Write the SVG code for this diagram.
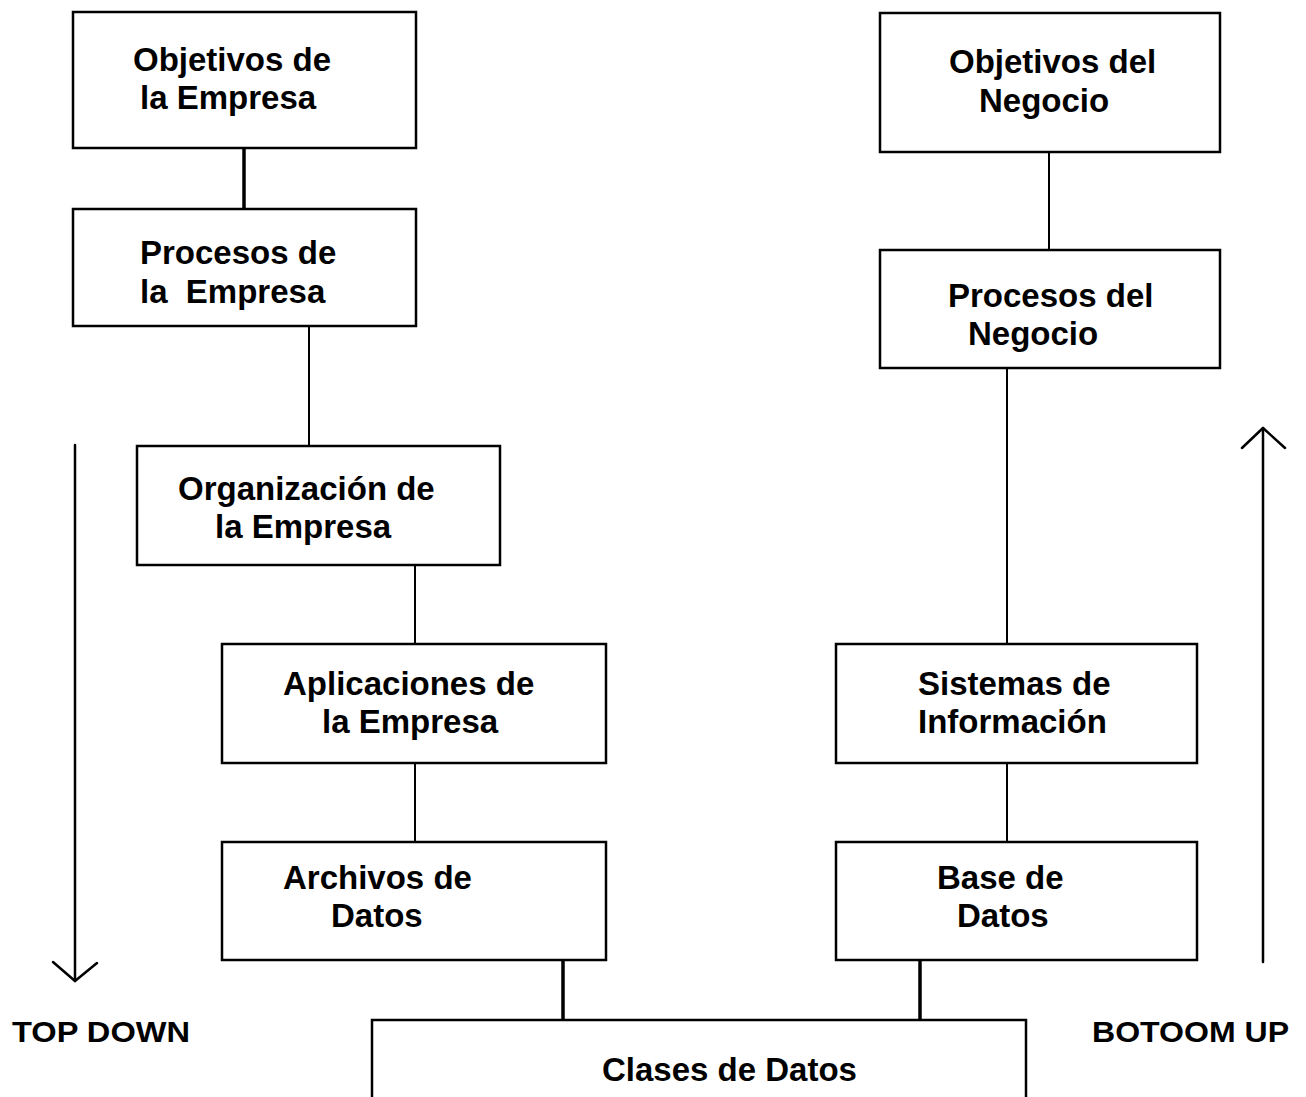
<svg xmlns="http://www.w3.org/2000/svg" width="1306" height="1097" viewBox="0 0 1306 1097">
  <style>
    .box { fill: #ffffff; stroke: #000000; stroke-width: 2.5; }
    .lbl { font-family: "Liberation Sans", Arial, sans-serif; font-weight: bold; font-size: 33px; fill: #000000; white-space: pre; }
    .cap { font-family: "Liberation Sans", Arial, sans-serif; font-weight: bold; font-size: 30px; fill: #000000; }
    .link { stroke: #000000; stroke-width: 2; fill: none; }
    .link-thick { stroke: #000000; stroke-width: 3.5; fill: none; }
    .flow { stroke: #000000; stroke-width: 2.5; fill: none; stroke-linecap: round; stroke-linejoin: round; }
  </style>
  <rect width="1306" height="1097" fill="#ffffff"/>

  <!-- connectors between boxes -->
  <g id="connectors">
    <line class="link-thick" x1="244" y1="148" x2="244" y2="209"/>
    <line class="link" x1="309" y1="326" x2="309" y2="446"/>
    <line class="link" x1="415" y1="565" x2="415" y2="644"/>
    <line class="link" x1="415" y1="763" x2="415" y2="842"/>
    <line class="link-thick" x1="563" y1="960" x2="563" y2="1020"/>
    <line class="link-thick" x1="920" y1="960" x2="920" y2="1020"/>
    <line class="link" x1="1049" y1="152" x2="1049" y2="250"/>
    <line class="link" x1="1007" y1="368" x2="1007" y2="644"/>
    <line class="link" x1="1007" y1="763" x2="1007" y2="842"/>
  </g>

  <!-- left column -->
  <g id="objetivos-empresa">
    <rect class="box" x="73" y="12" width="343" height="136"/>
    <text class="lbl" x="133" y="71">Objetivos de</text>
    <text class="lbl" x="140" y="109">la Empresa</text>
  </g>
  <g id="procesos-empresa">
    <rect class="box" x="73" y="209" width="343" height="117"/>
    <text class="lbl" x="140" y="264">Procesos de</text>
    <text class="lbl" x="140" y="303">la  Empresa</text>
  </g>
  <g id="organizacion-empresa">
    <rect class="box" x="137" y="446" width="363" height="119"/>
    <text class="lbl" x="178" y="500">Organización de</text>
    <text class="lbl" x="215" y="538">la Empresa</text>
  </g>
  <g id="aplicaciones-empresa">
    <rect class="box" x="222" y="644" width="384" height="119"/>
    <text class="lbl" x="283" y="695">Aplicaciones de</text>
    <text class="lbl" x="322" y="733">la Empresa</text>
  </g>
  <g id="archivos-datos">
    <rect class="box" x="222" y="842" width="384" height="118"/>
    <text class="lbl" x="283" y="889">Archivos de</text>
    <text class="lbl" x="331" y="927">Datos</text>
  </g>

  <!-- right column -->
  <g id="objetivos-negocio">
    <rect class="box" x="880" y="13" width="340" height="139"/>
    <text class="lbl" x="949" y="73">Objetivos del</text>
    <text class="lbl" x="979" y="112">Negocio</text>
  </g>
  <g id="procesos-negocio">
    <rect class="box" x="880" y="250" width="340" height="118"/>
    <text class="lbl" x="948" y="307">Procesos del</text>
    <text class="lbl" x="968" y="345">Negocio</text>
  </g>
  <g id="sistemas-informacion">
    <rect class="box" x="836" y="644" width="361" height="119"/>
    <text class="lbl" x="918" y="695">Sistemas de</text>
    <text class="lbl" x="918" y="733">Información</text>
  </g>
  <g id="base-datos">
    <rect class="box" x="836" y="842" width="361" height="118"/>
    <text class="lbl" x="937" y="889">Base de</text>
    <text class="lbl" x="957" y="927">Datos</text>
  </g>

  <!-- shared bottom box -->
  <g id="clases-datos">
    <rect class="box" x="372" y="1020" width="654" height="100"/>
    <text class="lbl" x="602" y="1081">Clases de Datos</text>
  </g>

  <!-- direction arrows -->
  <g id="top-down">
    <path class="flow" d="M75 445 V981"/>
    <path class="flow" d="M53 962 L75 981 L97 963"/>
    <text class="cap" x="12" y="1042" textLength="178" lengthAdjust="spacingAndGlyphs">TOP DOWN</text>
  </g>
  <g id="bottom-up">
    <path class="flow" d="M1263 962 V428"/>
    <path class="flow" d="M1242 448 L1263 428 L1285 448"/>
    <text class="cap" x="1092" y="1042" textLength="197" lengthAdjust="spacingAndGlyphs">BOTOOM UP</text>
  </g>
</svg>
